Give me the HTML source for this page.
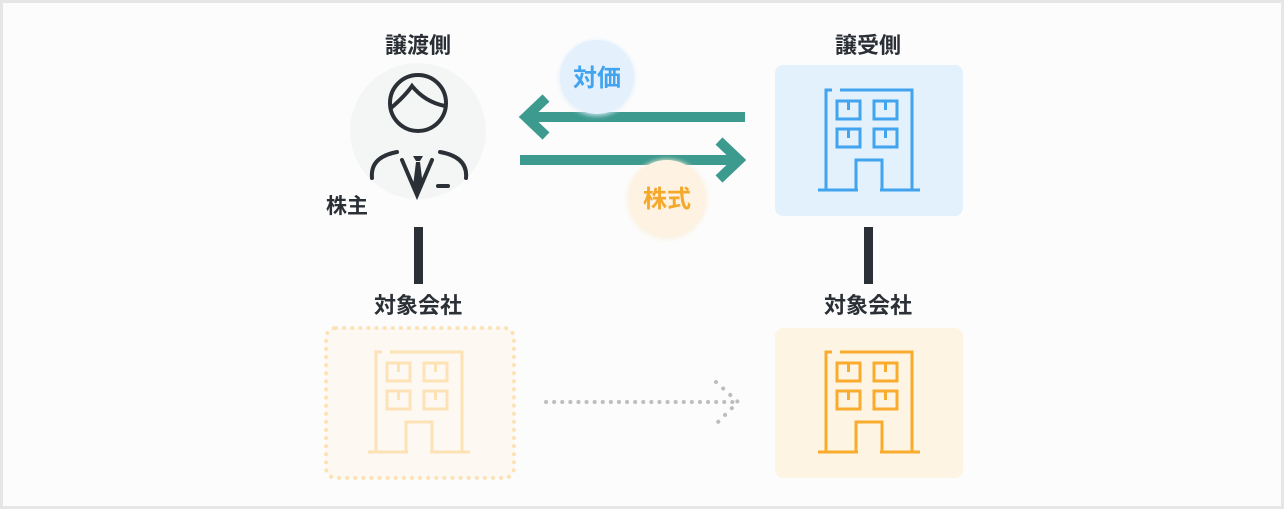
<!DOCTYPE html>
<html><head><meta charset="utf-8"><style>
html,body{margin:0;padding:0;background:#fff}
svg{display:block}
text{font-family:"Liberation Sans","Noto Sans CJK JP",sans-serif;font-weight:bold}
</style></head><body>
<svg width="1284" height="509" viewBox="0 0 1284 509" xmlns="http://www.w3.org/2000/svg">
<defs>
<g id="bld" fill="none" stroke-width="3" stroke-linecap="butt">
<path d="M8 100V0h6M22 0h72v100M0 100h40M62 100h40M38 100V70h26v30"/>
<rect x="19" y="11" width="23" height="18"/><rect x="56" y="11" width="23" height="18"/>
<rect x="19" y="39" width="23" height="18"/><rect x="56" y="39" width="23" height="18"/>
<path d="M30.5 11v9M67.5 11v9M30.5 39v9M67.5 39v9"/>
</g>
<filter id="sh" x="-30%" y="-30%" width="160%" height="160%"><feGaussianBlur stdDeviation="2"/></filter>
</defs>
<rect x="0" y="0" width="1284" height="509" fill="#e6e6e6"/>
<rect x="3" y="3" width="1278" height="503" fill="#fcfcfc"/>

<text x="418" y="53" font-size="22" fill="#2b3036" text-anchor="middle">譲渡側</text>
<text x="868" y="53" font-size="22" fill="#2b3036" text-anchor="middle">譲受側</text>
<text x="326" y="213" font-size="21" fill="#2b3036">株主</text>
<text x="418" y="313" font-size="22" fill="#2b3036" text-anchor="middle">対象会社</text>
<text x="868" y="313" font-size="22" fill="#2b3036" text-anchor="middle">対象会社</text>

<circle cx="418" cy="131" r="68" fill="#f4f6f6"/>
<g fill="none" stroke="#2b3036" stroke-width="4" stroke-linecap="round">
<circle cx="418" cy="103" r="28"/>
<path d="M391 108 Q405 96 412 86 Q425 102 445 106"/>
<path d="M372 178 Q370 157 397 152 M440 152 Q468 157 466 178"/>
<path d="M402 160 L417 195 L432 160"/>
<path d="M438 186h10"/>
</g>
<path d="M413 156h10l-3 5h-4z M416 162h4l3 24l-5 9l-5-9z" fill="#2b3036"/>

<g stroke="#3d9a8f" stroke-width="10" fill="none">
<path d="M745 117H525"/><path d="M546 98L526 117L546 136"/>
<path d="M520 160H740"/><path d="M719 141L739 160L719 179"/>
</g>
<circle cx="597" cy="78" r="38" fill="#dfeefa" filter="url(#sh)" opacity=".8"/>
<circle cx="597" cy="77" r="37" fill="#e4f1fd"/>
<text x="597" y="86" font-size="24" fill="#42a4ef" text-anchor="middle">対価</text>
<circle cx="667" cy="199" r="40" fill="#fbeed7" filter="url(#sh)" opacity=".8"/>
<circle cx="667" cy="198" r="38" fill="#fef3e2"/>
<text x="667" y="207" font-size="24" fill="#f5a82a" text-anchor="middle">株式</text>

<rect x="775" y="65" width="188" height="151" rx="8" fill="#e3f1fd"/>
<use href="#bld" x="818" y="90" stroke="#42a4ef"/>

<rect x="414" y="227" width="9" height="57" fill="#2b3036"/>
<rect x="864" y="227" width="9" height="57" fill="#2b3036"/>

<rect x="326" y="328" width="188" height="150" rx="10" fill="#fdf8f1" stroke="#fde2b6" stroke-width="4" stroke-dasharray="0.1 8" stroke-linecap="round"/>
<use href="#bld" x="368" y="352" stroke="#fde2b6"/>

<g stroke="#bdbdbd" stroke-width="4" stroke-linecap="round" fill="none">
<path d="M546 402H738" stroke-dasharray="0.1 8"/>
<path d="M716 382L738 402L716 424" stroke-dasharray="0.1 9.5"/>
</g>

<rect x="775" y="328" width="188" height="150" rx="8" fill="#fef4e4"/>
<use href="#bld" x="818" y="352" stroke="#f8ab2d"/>
</svg>
</body></html>
